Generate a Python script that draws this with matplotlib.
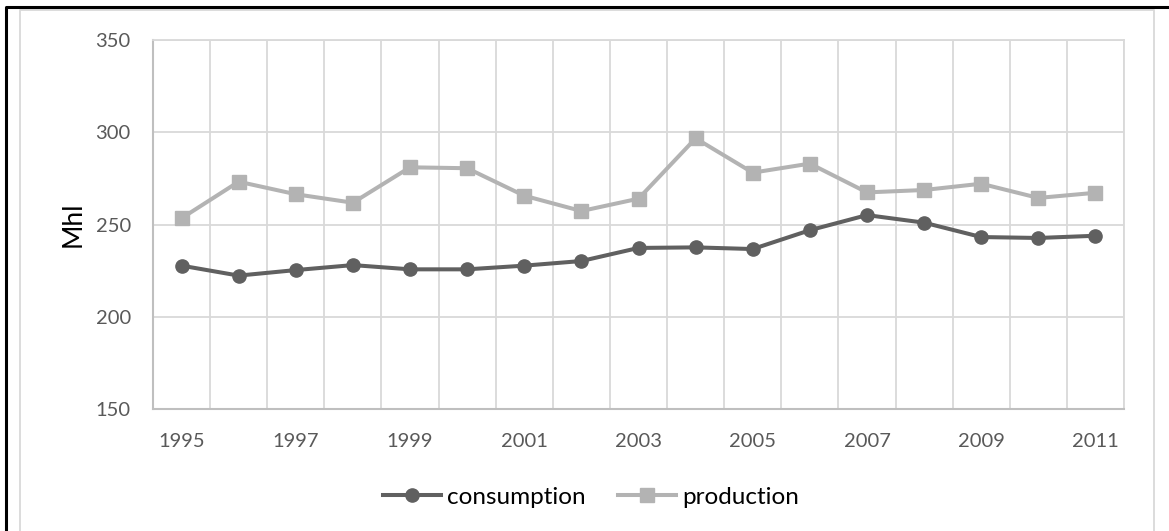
import matplotlib
matplotlib.use("Agg")
import matplotlib.pyplot as plt
from matplotlib.lines import Line2D

years = [1995, 1996, 1997, 1998, 1999, 2000, 2001, 2002, 2003,
         2004, 2005, 2006, 2007, 2008, 2009, 2010, 2011]
consumption = [227.7, 222.3, 225.3, 228.0, 225.7, 225.7, 227.7, 230.2, 237.3,
               237.6, 236.7, 246.9, 255.1, 251.0, 243.2, 242.7, 243.9]
production = [253.4, 273.2, 266.4, 261.8, 281.0, 280.5, 265.6, 257.3, 264.0,
              296.7, 278.1, 283.0, 267.4, 268.7, 272.1, 264.4, 267.2]
yticks = [150, 200, 250, 300, 350]

W, H = 1169, 531
DPI = 100
plt.rcParams['font.family'] = ['Lato', 'DejaVu Sans']

fig = plt.figure(figsize=(W / DPI, H / DPI), dpi=DPI)
fig.patch.set_facecolor('white')

def fx(px):
    return px / W

def fy(py):
    return 1 - py / H

# outer frames
fig.add_artist(Line2D([fx(20), fx(20), fx(1154), fx(1154)],
                      [fy(H + 5), fy(10), fy(10), fy(H + 5)],
                      color='#d9d9d9', lw=1.3, transform=fig.transFigure))
fig.add_artist(Line2D([fx(5.5), fx(5.5), fx(W + 5)],
                      [fy(H + 5), fy(6.5), fy(6.5)],
                      color='black', lw=2.2, transform=fig.transFigure))

left, right, top, bottom = 153, 1124, 40, 409
ax = fig.add_axes([fx(left), fy(bottom), (right - left) / W, (bottom - top) / H])

x = list(range(len(years)))
ax.plot(x, consumption, color='#606060', lw=2.9, marker='o', markersize=9.5,
        label='consumption', zorder=3, clip_on=False)
ax.plot(x, production, color='#b3b3b3', lw=2.9, marker='s', markersize=9.5,
        label='production', zorder=3, clip_on=False)

ax.set_xlim(-0.5, len(years) - 0.5)
ax.set_ylim(150, 350)
ax.set_yticks(yticks)
ax.set_xticks(x[::2])
ax.set_xticklabels([str(y) for y in years[::2]])
ax.set_xticks([i - 0.5 for i in range(len(years) + 1)], minor=True)
ax.tick_params(axis='both', which='both', length=0, labelsize=14.5,
               labelcolor='#595959')
ax.tick_params(axis='y', pad=16)
ax.tick_params(axis='x', pad=17)
ax.grid(True, axis='y', which='major', color='#d9d9d9', lw=1.3)
ax.grid(True, axis='x', which='minor', color='#d9d9d9', lw=1.3)
ax.set_axisbelow(True)
for s in ['left', 'bottom']:
    ax.spines[s].set_color('#bfbfbf')
    ax.spines[s].set_linewidth(1.5)
for s in ['top', 'right']:
    ax.spines[s].set_color('#d9d9d9')
    ax.spines[s].set_linewidth(1.3)

ax.set_ylabel('Mhl', fontsize=19, color='black', labelpad=7)

leg = fig.legend(loc='center', bbox_to_anchor=(fx(591), fy(497)), ncol=2,
                 frameon=False, fontsize=17.5, handlelength=2.4,
                 columnspacing=1.3, handletextpad=0.25)
for t in leg.get_texts():
    t.set_color('black')

fig.savefig('out.png', dpi=DPI)
